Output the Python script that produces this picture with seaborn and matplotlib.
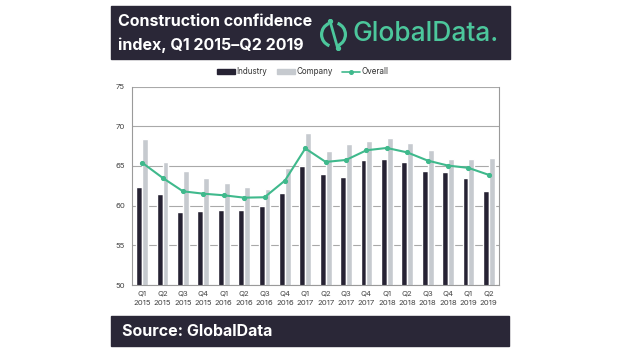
import matplotlib
matplotlib.use("Agg")
import matplotlib.pyplot as plt
import seaborn as sns
import pandas as pd
from matplotlib.patches import Rectangle, Arc, Patch
from matplotlib.lines import Line2D

quarters = ["Q1\n2015", "Q2\n2015", "Q3\n2015", "Q4\n2015",
            "Q1\n2016", "Q2\n2016", "Q3\n2016", "Q4\n2016",
            "Q1\n2017", "Q2\n2017", "Q3\n2017", "Q4\n2017",
            "Q1\n2018", "Q2\n2018", "Q3\n2018", "Q4\n2018",
            "Q1\n2019", "Q2\n2019"]
industry = [62.3, 61.5, 59.2, 59.35, 59.5, 59.5, 59.9, 61.6, 65.0,
            64.0, 63.65, 65.7, 65.9, 65.5, 64.4, 64.25, 63.5, 61.8]
company = [68.4, 65.5, 64.3, 63.5, 62.9, 62.4, 62.15, 64.7, 69.2,
           66.9, 67.7, 68.1, 68.55, 67.9, 67.05, 65.9, 65.9, 65.95]
overall = [65.4, 63.5, 61.8, 61.5, 61.3, 61.0, 61.05, 63.15, 67.2,
           65.5, 65.75, 66.97, 67.26, 66.7, 65.67, 65.04, 64.75, 63.87]
yticks = [50, 55, 60, 65, 70, 75]

C_IND = "#262233"
C_COM = "#c6cacf"
C_OVR = "#3fb98c"
C_HEAD = "#2a2737"
C_LOGO = "#4cc79c"

sns.set_theme(style="white")
plt.rcParams["font.family"] = ["Inter", "DejaVu Sans"]

W, H = 620, 350
fig = plt.figure(figsize=(6.2, 3.5), dpi=100)
fig.patch.set_facecolor("white")

def fx(x):
    return x / W

def fy(y):
    return 1 - y / H

# header banner
fig.patches.append(Rectangle((fx(111), fy(59)), fx(510 - 111), 53 / H,
                             transform=fig.transFigure, color=C_HEAD, zorder=-5))
fig.text(fx(118), fy(22), "Construction confidence", color="white",
         fontsize=11.5, fontweight="bold", va="center", ha="left")
fig.text(fx(118), fy(45), "index, Q1 2015\u2013Q2 2019", color="white",
         fontsize=11.5, fontweight="bold", va="center", ha="left")
fig.text(fx(353), fy(34), "GlobalData.", color=C_LOGO,
         fontsize=19, fontweight="medium", va="center", ha="left")

# logo icon
iax = fig.add_axes([fx(318), fy(50), fx(31), 31 / H], zorder=5)
iax.patch.set_alpha(0)
iax.set_xlim(-1.3, 1.3)
iax.set_ylim(-1.3, 1.3)
iax.set_aspect("equal")
iax.axis("off")
iax.add_patch(Arc((0, 0), 2, 2, theta1=112, theta2=250, color=C_LOGO, lw=2.3))
iax.add_patch(Arc((0, 0), 2, 2, theta1=292, theta2=70, color=C_LOGO, lw=2.3))
iax.plot([-0.3, 0.35], [1.15, -1.15], color=C_LOGO, lw=2.0)
iax.plot([-0.3, 0.35], [1.15, -1.15], "o", color=C_LOGO, ms=2.8)

# footer banner
fig.patches.append(Rectangle((fx(111), fy(346)), fx(509 - 111), 30 / H,
                             transform=fig.transFigure, color=C_HEAD, zorder=-5))
fig.text(fx(122), fy(331), "Source: GlobalData", color="white",
         fontsize=11.5, fontweight="bold", va="center", ha="left")

# main axes
ax = fig.add_axes([fx(132), fy(285), fx(499 - 132), (285 - 86.5) / H])
df = pd.DataFrame({
    "quarter": quarters * 2,
    "value": industry + company,
    "series": ["Industry"] * len(quarters) + ["Company"] * len(quarters),
})
sns.barplot(data=df, x="quarter", y="value", hue="series",
            palette={"Industry": C_IND, "Company": C_COM},
            width=0.58, gap=0, saturation=1, legend=False, ax=ax,
            order=quarters, hue_order=["Industry", "Company"])
sns.pointplot(x=quarters, y=overall, color=C_OVR, markers="o",
              markersize=2.6, linewidth=1.5, ax=ax, order=quarters)

ax.set_ylim(50, 75)
ax.set_yticks(yticks)
ax.set_xlim(-0.5, len(quarters) - 0.5)
ax.set_xlabel("")
ax.set_ylabel("")
ax.yaxis.grid(True, color="#a9a9a9", lw=0.8)
ax.set_axisbelow(True)
for s in ["left", "right", "bottom"]:
    ax.spines[s].set_visible(True)
    ax.spines[s].set_color("#9a9a9a")
    ax.spines[s].set_linewidth(0.8)
ax.spines["top"].set_visible(False)
ax.tick_params(axis="both", labelsize=5.6, colors="#444444", length=0, pad=4)
ax.tick_params(axis="y", pad=5)
ax.set_xticks(range(len(quarters)))
ax.set_xticklabels(quarters, linespacing=1.6)

handles = [Patch(color=C_IND, label="Industry"),
           Patch(color=C_COM, label="Company"),
           Line2D([0], [0], color=C_OVR, marker="o", ms=2.6, lw=1.2, label="Overall")]
fig.legend(handles=handles, loc="center", bbox_to_anchor=(fx(303), fy(72)),
           ncol=3, frameon=False, fontsize=5.8, handlelength=2.2, handleheight=0.5,
           handletextpad=0.2, columnspacing=1.2, labelcolor="#333333")

fig.savefig("out.png", dpi=100, facecolor="white")
